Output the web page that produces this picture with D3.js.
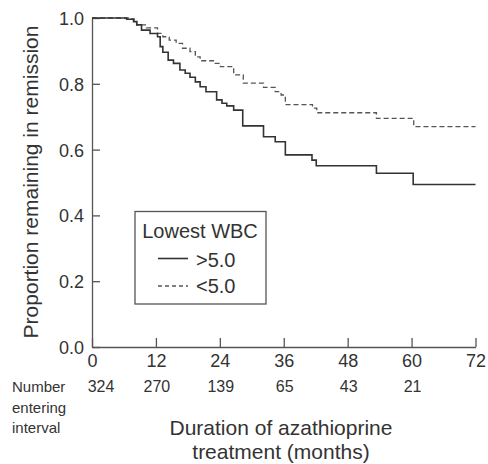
<!DOCTYPE html>
<html>
<head>
<meta charset="utf-8">
<script src="https://cdn.jsdelivr.net/npm/d3@7/dist/d3.min.js"></script>
<style>
  html, body { margin: 0; padding: 0; background: #fff; }
  svg text { font-family: "Liberation Sans", Arial, sans-serif; fill: #333; }
</style>
</head>
<body>
<svg id="chart" width="488" height="464"></svg>
<script>
// ---- data ----
const xTicks = [0, 12, 24, 36, 48, 60, 72];
const yTicks = [0.0, 0.2, 0.4, 0.6, 0.8, 1.0];
const atRiskMonths = [0, 12, 24, 36, 48, 60];
const atRiskCounts = [324, 270, 139, 65, 43, 21];

// Lowest WBC > 5.0 (solid)
const highTimes  = [0, 6.5, 7.8, 8.4, 9.3, 10.9, 12.3, 12.8, 13.3, 14.3, 15.3, 16.5, 17.5, 18.4, 19.4, 20.3, 21.4, 23.4, 24.4, 25.3, 26.6, 28.3, 32.2, 34.4, 36.3, 41.3, 42.1, 53.4, 60.3, 72];
const highValues = [1.0, 0.996, 0.989, 0.979, 0.963, 0.953, 0.943, 0.913, 0.896, 0.872, 0.862, 0.842, 0.832, 0.820, 0.806, 0.791, 0.776, 0.751, 0.741, 0.733, 0.720, 0.672, 0.639, 0.624, 0.584, 0.568, 0.551, 0.528, 0.494, 0.494];

// Lowest WBC < 5.0 (dashed)
const lowTimes  = [0, 6.8, 7.9, 8.4, 10.2, 12.3, 13.3, 14.5, 15.8, 17.0, 18.4, 19.4, 20.3, 22.8, 24.1, 26.6, 28.4, 32.2, 34.4, 35.5, 36.3, 41.4, 42.2, 53.4, 60.4, 72];
const lowValues = [1.0, 0.997, 0.989, 0.979, 0.970, 0.953, 0.943, 0.933, 0.923, 0.908, 0.898, 0.882, 0.870, 0.862, 0.852, 0.827, 0.802, 0.789, 0.776, 0.766, 0.737, 0.726, 0.712, 0.695, 0.670, 0.670];

const legendTitle = "Lowest WBC";
const seriesLabels = [">5.0", "<5.0"];

// ---- layout ----
const svg = d3.select("#chart");
const x = d3.scaleLinear().domain([0, 72]).range([92, 475.5]);
const y = d3.scaleLinear().domain([0, 1]).range([347, 18]);
const axisColor = "#555";

// axes
const yAxis = svg.append("g").attr("transform", `translate(${x(0)},0)`)
  .call(d3.axisLeft(y).tickValues(yTicks).tickFormat(d3.format(".1f")).tickSizeInner(-8).tickSizeOuter(0).tickPadding(8));
const xAxis = svg.append("g").attr("transform", `translate(0,${y(0)})`)
  .call(d3.axisBottom(x).tickValues(xTicks).tickFormat(d3.format("d")).tickSizeInner(-9).tickSizeOuter(0).tickPadding(6));
[xAxis, yAxis].forEach(g => {
  g.select(".domain").attr("stroke", axisColor).attr("stroke-width", 1.3);
  g.selectAll(".tick line").attr("stroke", axisColor).attr("stroke-width", 1.3);
  g.selectAll(".tick text").attr("fill", "#333").style("font-size", "18px")
    .style("font-family", '"Liberation Sans", Arial, sans-serif');
});
yAxis.selectAll(".tick text").attr("dy", "0.36em");
xAxis.selectAll(".tick text").attr("dy", "0.76em");

// curves
const line = d3.line().x(d => x(d[0])).y(d => y(d[1])).curve(d3.curveStepAfter);
const high = highTimes.map((t, i) => [t, highValues[i]]);
const low = lowTimes.map((t, i) => [t, lowValues[i]]);

svg.append("path").datum(low).attr("d", line)
  .attr("fill", "none").attr("stroke", "#555").attr("stroke-width", 1.3)
  .attr("stroke-dasharray", "5,3");
svg.append("path").datum(high).attr("d", line)
  .attr("fill", "none").attr("stroke", "#333").attr("stroke-width", 1.6);

// legend
svg.append("rect").attr("x", 135).attr("y", 211.5).attr("width", 131).attr("height", 92.5)
  .attr("fill", "#fff").attr("stroke", axisColor).attr("stroke-width", 1.3);
svg.append("text").attr("x", 200).attr("y", 238).attr("text-anchor", "middle")
  .style("font-size", "20px").text(legendTitle);
const legRows = [
  { label: seriesLabels[0], y: 258.5, dash: null, color: "#333", w: 1.6, ty: 266.5 },
  { label: seriesLabels[1], y: 286, dash: "4,3", color: "#555", w: 1.3, ty: 292.5 }
];
legRows.forEach(r => {
  svg.append("line").attr("x1", 158).attr("x2", 188).attr("y1", r.y).attr("y2", r.y)
    .attr("stroke", r.color).attr("stroke-width", r.w).attr("stroke-dasharray", r.dash);
  svg.append("text").attr("x", 196).attr("y", r.ty).style("font-size", "20px").text(r.label);
});

// y axis title
svg.append("text")
  .attr("transform", `translate(38,${182}) rotate(-90)`)
  .attr("text-anchor", "middle").style("font-size", "21px")
  .text("Proportion remaining in remission");

// number at risk
["Number", "entering", "interval"].forEach((t, i) => {
  svg.append("text").attr("x", 12).attr("y", 392 + i * 20.5).style("font-size", "15px").text(t);
});
svg.selectAll(".atrisk").data(atRiskCounts).enter().append("text")
  .attr("class", "atrisk")
  .attr("x", (d, i) => x(atRiskMonths[i]) + (i === 0 ? 9 : 1))
  .attr("y", 392).attr("text-anchor", "middle").style("font-size", "16px")
  .text(d => d);

// x axis title
svg.append("text").attr("x", 281).attr("y", 435).attr("text-anchor", "middle")
  .style("font-size", "21px").text("Duration of azathioprine");
svg.append("text").attr("x", 281).attr("y", 459).attr("text-anchor", "middle")
  .style("font-size", "21px").text("treatment (months)");
</script>
</body>
</html>
